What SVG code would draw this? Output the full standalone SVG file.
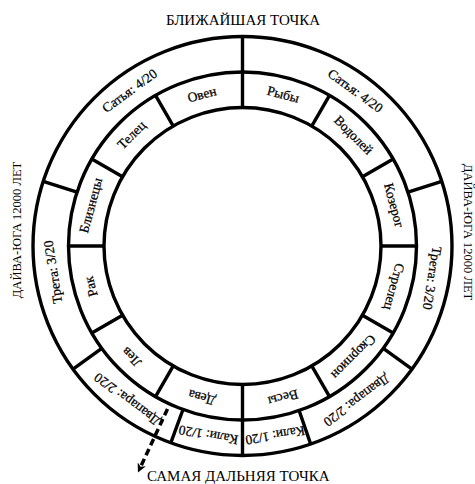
<svg xmlns="http://www.w3.org/2000/svg" width="475" height="484" viewBox="0 0 475 484">
<defs>
<style>
.ring{fill:none;stroke:#000;stroke-width:3.4}
.div{stroke:#000;stroke-width:3.4;stroke-linecap:butt}
.lbl{font-family:"Liberation Serif","Times New Roman",serif;font-size:13.5px;fill:#000;stroke:#000;stroke-width:0.25;text-anchor:middle}
.yl{font-family:"Liberation Serif","Times New Roman",serif;font-size:13.5px;fill:#000;stroke:#000;stroke-width:0.25;text-anchor:middle}
.big{font-family:"Liberation Serif","Times New Roman",serif;font-size:15px;fill:#000}
.side{font-family:"Liberation Serif","Times New Roman",serif;font-size:12.5px;fill:#000;text-anchor:middle}
</style>
<marker id="ah" viewBox="0 0 10 10" refX="2" refY="5" markerWidth="9" markerHeight="9" markerUnits="userSpaceOnUse" orient="auto">
<path d="M0,0 L10,5 L0,10 L3,5 z" fill="#000"/>
</marker>
</defs>
<rect width="475" height="484" fill="#fff"/>

<g id="rings">
<circle class="ring" cx="242.5" cy="246" r="209.5"/>
<circle class="ring" cx="242.5" cy="246" r="174"/>
<circle class="ring" cx="242.5" cy="246" r="138.5"/>
</g>

<g id="dividers">
<line class="div" x1="242.5" y1="107.5" x2="242.5" y2="36.5"/>
<line class="div" x1="242.5" y1="384.5" x2="242.5" y2="455.5"/>
<line class="div" x1="381" y1="246" x2="416.5" y2="246"/>
<line class="div" x1="362.44" y1="315.25" x2="393.19" y2="333"/>
<line class="div" x1="311.75" y1="365.94" x2="329.5" y2="396.69"/>
<line class="div" x1="173.25" y1="365.94" x2="155.5" y2="396.69"/>
<line class="div" x1="122.56" y1="315.25" x2="91.81" y2="333"/>
<line class="div" x1="104" y1="246" x2="68.5" y2="246"/>
<line class="div" x1="122.56" y1="176.75" x2="91.81" y2="159"/>
<line class="div" x1="173.25" y1="126.06" x2="155.5" y2="95.31"/>
<line class="div" x1="311.75" y1="126.06" x2="329.5" y2="95.31"/>
<line class="div" x1="362.44" y1="176.75" x2="393.19" y2="159"/>
<line class="div" x1="77.02" y1="192.23" x2="43.25" y2="181.26"/>
<line class="div" x1="101.73" y1="348.28" x2="73.01" y2="369.14"/>
<line class="div" x1="183.0" y1="409.5" x2="170.8" y2="442.9"/>
<line class="div" x1="299.1" y1="410.5" x2="310.7" y2="444.1"/>
<line class="div" x1="383.27" y1="348.28" x2="412.0" y2="369.14"/>
<line class="div" x1="408.0" y1="192.23" x2="441.75" y2="181.26"/>
</g>

<g id="zodiac">
<g id="oven"><text class="lbl" transform="translate(202,94.8) rotate(-15)" y="4">Овен</text></g>
<g id="telec"><text class="lbl" transform="translate(131.8,135.3) rotate(-45)" y="4">Телец</text></g>
<g id="bliznecy"><text class="lbl" transform="translate(91.3,205.5) rotate(-75)" y="4">Близнецы</text></g>
<g id="rak"><text class="lbl" transform="translate(91.3,286.5) rotate(-105)" y="4">Рак</text></g>
<g id="lev"><text class="lbl" transform="translate(131.8,356.7) rotate(225)" y="4">Лев</text></g>
<g id="deva"><text class="lbl" transform="translate(202,397.2) rotate(195)" y="4">Дева</text></g>
<g id="vesy"><text class="lbl" transform="translate(283,397.2) rotate(165)" y="4">Весы</text></g>
<g id="skorpion"><text class="lbl" transform="translate(353.2,356.7) rotate(135)" y="4">Скорпион</text></g>
<g id="strelec"><text class="lbl" transform="translate(393.7,286.5) rotate(105)" y="4">Стрелец</text></g>
<g id="kozerog"><text class="lbl" transform="translate(393.7,205.5) rotate(75)" y="4">Козерог</text></g>
<g id="vodoley"><text class="lbl" transform="translate(353.2,135.3) rotate(45)" y="4">Водолей</text></g>
<g id="ryby"><text class="lbl" transform="translate(283,94.8) rotate(15)" y="4">Рыбы</text></g>
</g>

<g id="yugas">
<g id="satya-l"><text class="yl" transform="translate(129.9,91.1) rotate(-36)" y="4">Сатья: 4/20</text></g>
<g id="satya-r"><text class="yl" transform="translate(355.1,91.1) rotate(36)" y="4">Сатья: 4/20</text></g>
<g id="treta-l"><text class="yl" transform="translate(53.4,272) rotate(-99)" y="4">Трета: 3/20</text></g>
<g id="treta-r"><text class="yl" transform="translate(431.6,278) rotate(99)" y="4">Трета: 3/20</text></g>
<g id="dvapara-l"><text class="yl" transform="translate(127.3,398.9) rotate(217)" y="4">Двапара: 2/20</text></g>
<g id="dvapara-r"><text class="yl" transform="translate(356.4,399.9) rotate(143.5)" y="4">Двапара: 2/20</text></g>
<g id="kali-l"><text class="yl" transform="translate(208.5,434.6) rotate(190)" y="4">Кали: 1/20</text></g>
<g id="kali-r"><text class="yl" transform="translate(275,434.9) rotate(170.5)" y="4">Кали: 1/20</text></g>
</g>

<g id="titles">
<text class="big" x="243" y="25" text-anchor="middle">БЛИЖАЙШАЯ ТОЧКА</text>
<text class="big" x="147" y="481">САМАЯ ДАЛЬНЯЯ ТОЧКА</text>
<text class="side" transform="translate(20.5,230) rotate(-90)">ДАЙВА-ЮГА 12000 ЛЕТ</text>
<text class="side" transform="translate(464,232) rotate(90)">ДАЙВА-ЮГА 12000 ЛЕТ</text>
</g>

<g id="connectors">
<path d="M167.5,409 L141,466" fill="none" stroke="#000" stroke-width="3.5" stroke-dasharray="7 4" marker-end="url(#ah)"/>
</g>
</svg>
